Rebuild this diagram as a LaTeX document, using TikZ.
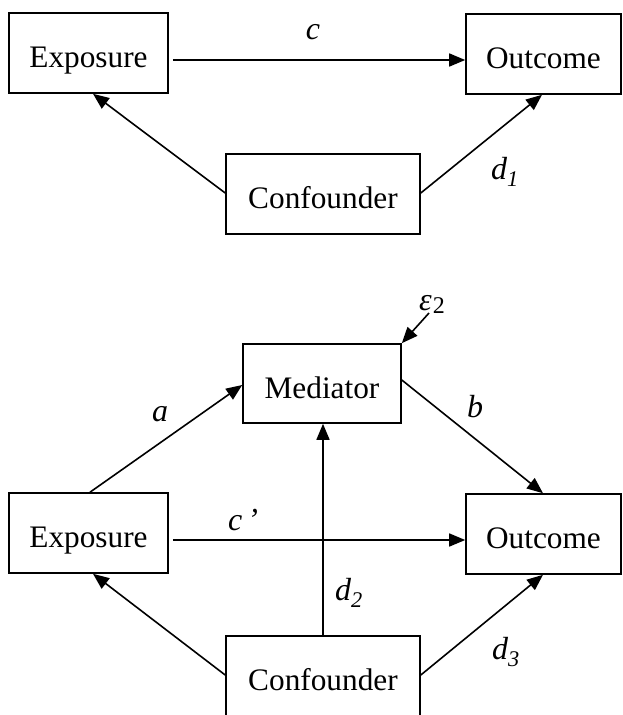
\documentclass[tikz,border=0pt]{standalone}
\usepackage{fontspec}
\setmainfont{Liberation Serif}
\usetikzlibrary{arrows.meta,calc}
\tikzset{
  box/.style={draw, line width=1.6pt, inner sep=0pt, minimum height=80pt,
    text height=54pt, text depth=26pt,
    font=\fontsize{31.3}{36}\selectfont},
  conn/.style={line width=1.6pt, -{Triangle[length=16pt,width=13pt]}},
  lbl/.style={font=\fontsize{32}{38}\selectfont\itshape, inner sep=0pt},
}
\begin{document}
\begin{tikzpicture}[x=1pt,y=-1pt]
\useasboundingbox (0,0) rectangle (623,715);
\clip (0,0) rectangle (623,715);
% top diagram
\node[box, minimum width=159pt] (ex1) at (88.5,53) {Exposure};
\node[box, minimum width=155pt] (oc1) at (543.5,54) {Outcome};
\node[box, minimum width=194pt] (cf1) at (323,194) {Confounder};
\draw[conn] ($(ex1.east)+(4,7)$) -- ($(oc1.west)+(0,6)$);
\draw[conn] ($(cf1.west)+(0,-1)$) -- ($(ex1.south)+(4.5,0)$);
\draw[conn] ($(cf1.east)+(0,-1)$) -- ($(oc1.south)+(-1.5,0)$);
\node[lbl] (lc) at (313,32) {c};
\node[lbl] (ld1) at (505,172) {d\textsubscript{1}};
% bottom diagram
\node[box, minimum width=158pt, minimum height=79pt, text depth=25pt] (me) at (322,383.5) {Mediator};
\node[box, minimum width=159pt] (ex2) at (88.5,533) {Exposure};
\node[box, minimum width=155pt] (oc2) at (543.5,534) {Outcome};
\node[box, minimum width=194pt] (cf2) at (323,676) {Confounder};
\draw[conn] ($(ex2.north)+(1.5,0)$) -- ($(me.west)+(0,1.5)$);
\draw[conn] ($(me.east)+(0,-3.5)$) -- ($(oc2.north)+(-0.5,0)$);
\draw[conn] ($(ex2.east)+(4,7)$) -- ($(oc2.west)+(0,6)$);
\draw[conn] (cf2.north) -- ($(me.south)+(1,0)$);
\draw[conn] ($(cf2.west)+(0,-1)$) -- ($(ex2.south)+(4.5,0)$);
\draw[conn] ($(cf2.east)+(0,-1)$) -- ($(oc2.south)+(-0.5,0)$);
\node[lbl] (la) at (160,414) {a};
\node[lbl] (lb) at (475,407) {b};
\node[lbl] (lcp) at (243,520) {c\kern5pt’};
\node[lbl] (ld2) at (349,593) {d\textsubscript{2}};
\node[lbl] (ld3) at (506,652) {d\textsubscript{3}};
\node[font=\fontsize{32}{36}\selectfont, inner sep=0pt] (eps) at (432,304) {\textit{ε}\kern1pt\raisebox{-3pt}{\fontsize{24}{28}\selectfont 2}};
\draw[conn] (429,313) -- (me.north east);
\end{tikzpicture}
\end{document}
